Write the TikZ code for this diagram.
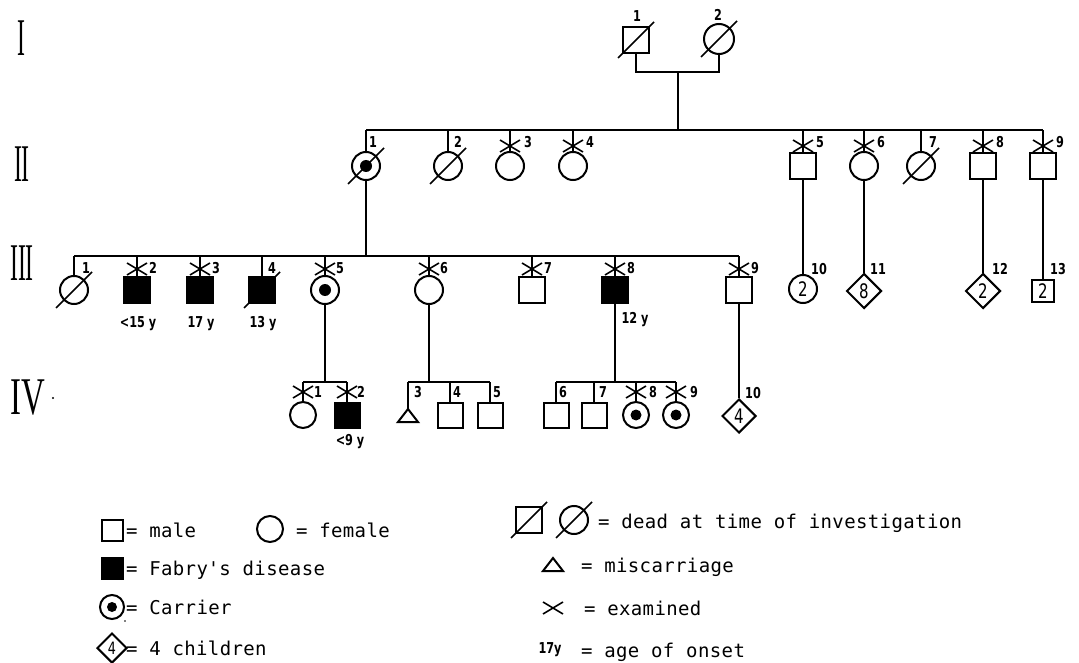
\documentclass[tikz,border=0pt]{standalone}
\usepackage{fontspec}
\usepackage{graphicx}
\usetikzlibrary{shapes.geometric}
\newfontfamily\legfam{DejaVu Sans Mono}[LetterSpace=2]
\newfontfamily\numfam{DejaVu Sans}[FakeStretch=0.75]
\newfontfamily\romfam{Liberation Serif}
\newcommand\legfont{\legfam\fontsize{19}{21}\selectfont}
\newcommand\lblfont{\numfam\bfseries\fontsize{15}{15}\selectfont}
\newcommand\kidfont{\numfam\fontsize{20}{20}\selectfont}
\newcommand\romfont{\romfam\fontsize{53}{53}\selectfont}
\begin{document}
\begin{tikzpicture}[x=1pt,y=-1pt,line width=2pt,
  male/.style={draw,rectangle,minimum size=26pt,inner sep=0pt},
  female/.style={draw,circle,minimum size=28pt,inner sep=0pt},
  kid/.style={draw,diamond,minimum size=35pt,inner sep=0pt,font=\kidfont},
  aff/.style={fill=black},
  lbl/.style={font=\lblfont,inner sep=0pt},
  roman/.style={font=\romfont,inner sep=0pt},
  legtxt/.style={font=\legfont,anchor=base west,inner sep=0pt},
  exmark/.pic={\draw[line width=1.6pt] (-10,-6) -- (10,6) (-10,6) -- (10,-6);},
  deadslash/.pic={\draw[line width=1.7pt] (-18,18) -- (18,-18);},
]
\useasboundingbox[fill=white] (0,0) rectangle (1079,663);

% generation labels
\node[roman] (gI) at (21,38) {\scalebox{0.45}[1]{I}};
\node[roman] (gII) at (22,164) {\scalebox{0.45}[1]{II}};
\node[roman] (gIII) at (22,263) {\scalebox{0.45}[1]{III}};
\node[roman] (gIV) at (28,398) {\scalebox{0.62}[1]{IV}};
\fill (53,398) circle[radius=1.2];

% ---------- generation I
\node[male] (I1) at (636,40) {};
\node[female,minimum size=30pt] (I2) at (719,39) {};
\pic at (I1) {deadslash};
\pic at (I2) {deadslash};
\node[lbl] (lI1) at (637,16) {1};
\node[lbl] (lI2) at (718,15) {2};
\coordinate (m1) at (678,72);
\coordinate (s2) at (678,130);
\draw (I1.south) -- (I1.south |- m1) -- (I2.south |- m1) -- (I2.south);
\draw (m1) -- (s2);

% ---------- generation II
\node[female] (II1) at (366,166) {};
\node[female] (II2) at (448,166) {};
\node[female] (II3) at (510,166) {};
\node[female] (II4) at (573,166) {};
\node[male] (II5) at (803,166) {};
\node[female] (II6) at (864,166) {};
\node[female] (II7) at (921,166) {};
\node[male] (II8) at (983,166) {};
\node[male] (II9) at (1043,166) {};
\fill (II1.center) circle[radius=6];
\pic at (II1) {deadslash};
\pic at (II2) {deadslash};
\pic at (II7) {deadslash};
\draw (II1.north |- s2) -- (II9.north |- s2);
\foreach \n in {II1,II2,II3,II4,II5,II6,II7,II8,II9}
  \draw (\n.north) -- (\n.north |- s2);
\foreach \x in {510,573,803,864,983,1043}
  \pic at (\x,146) {exmark};
\node[lbl] (lII1) at (373,142) {1};
\node[lbl] (lII2) at (458,142) {2};
\node[lbl] (lII3) at (528,142) {3};
\node[lbl] (lII4) at (590,142) {4};
\node[lbl] (lII5) at (820,142) {5};
\node[lbl] (lII6) at (881,142) {6};
\node[lbl] (lII7) at (933,142) {7};
\node[lbl] (lII8) at (1000,142) {8};
\node[lbl] (lII9) at (1060,142) {9};

% ---------- generation III
\coordinate (s3) at (366,256);
\node[female] (III1) at (74,290) {};
\node[male,aff] (III2) at (137,290) {};
\node[male,aff] (III3) at (200,290) {};
\node[male,aff] (III4) at (262,290) {};
\node[female] (III5) at (325,290) {};
\node[female] (III6) at (429,290) {};
\node[male] (III7) at (532,290) {};
\node[male,aff] (III8) at (615,290) {};
\node[male] (III9) at (739,290) {};
\fill (III5.center) circle[radius=6];
\pic at (III1) {deadslash};
\pic at (III4) {deadslash};
\draw (II1.south) -- (II1.south |- s3);
\draw (III1.north |- s3) -- (III9.north |- s3);
\foreach \n in {III1,III2,III3,III4,III5,III6,III7,III8,III9}
  \draw (\n.north) -- (\n.north |- s3);
\foreach \x in {137,200,325,429,532,615,739}
  \pic at (\x,269) {exmark};
\node[lbl] (lIII1) at (86,268) {1};
\node[lbl] (lIII2) at (153,268) {2};
\node[lbl] (lIII3) at (216,268) {3};
\node[lbl] (lIII4) at (272,268) {4};
\node[lbl] (lIII5) at (340,268) {5};
\node[lbl] (lIII6) at (444,268) {6};
\node[lbl] (lIII7) at (548,268) {7};
\node[lbl] (lIII8) at (631,268) {8};
\node[lbl] (lIII9) at (755,268) {9};
\node[lbl] (a2) at (138,324) {<15 y};
\node[lbl] (a3) at (201,324) {17 y};
\node[lbl] (a4) at (263,324) {13 y};
\node[lbl] (a8) at (635,320) {12 y};

\node[female,font=\kidfont] (III10) at (803,289) {2};
\node[kid] (III11) at (864,291) {8};
\node[kid] (III12) at (983,291) {2};
\node[male,minimum size=22pt,font=\kidfont] (III13) at (1043,291) {2};
\draw (II5.south) -- (III10.north);
\draw (II6.south) -- (III11.north);
\draw (II8.south) -- (III12.north);
\draw (II9.south) -- (III13.north);
\node[lbl] (lIII10) at (819,269) {10};
\node[lbl] (lIII11) at (878,269) {11};
\node[lbl] (lIII12) at (1000,269) {12};
\node[lbl] (lIII13) at (1058,269) {13};

% ---------- generation IV
\coordinate (s4) at (325,382);
\node[female,minimum size=26pt] (IV1) at (303,415) {};
\node[male,aff,minimum size=25pt] (IV2) at (347,415) {};
\draw (398,422) -- (408,409) -- (418,422) -- cycle;
\coordinate (IV3) at (408,409);
\node[male,minimum size=25pt] (IV4) at (450,415) {};
\node[male,minimum size=25pt] (IV5) at (490,415) {};
\node[male,minimum size=25pt] (IV6) at (556,415) {};
\node[male,minimum size=25pt] (IV7) at (594,415) {};
\node[female,minimum size=26pt] (IV8) at (636,415) {};
\node[female,minimum size=26pt] (IV9) at (676,415) {};
\node[kid,minimum size=34pt] (IV10) at (739,416) {4};
\fill (IV8.center) circle[radius=5.5];
\fill (IV9.center) circle[radius=5.5];
% sibships
\draw (IV1.north |- s4) -- (IV2.north |- s4);
\draw (III5.south) -- (III5.south |- s4);
\draw (IV3 |- s4) -- (IV5.north |- s4);
\draw (III6.south) -- (III6.south |- s4);
\draw (IV6.north |- s4) -- (IV9.north |- s4);
\draw (III8.south) -- (III8.south |- s4);
\draw (III9.south) -- (IV10.north);
\foreach \n in {IV1,IV2,IV4,IV5,IV6,IV7,IV8,IV9}
  \draw (\n.north) -- (\n.north |- s4);
\draw (IV3) -- (IV3 |- s4);
\foreach \x in {303,347,636,676}
  \pic at (\x,392) {exmark};
\node[lbl] (lIV1) at (318,392) {1};
\node[lbl] (lIV2) at (361,392) {2};
\node[lbl] (lIV3) at (418,392) {3};
\node[lbl] (lIV4) at (457,392) {4};
\node[lbl] (lIV5) at (497,392) {5};
\node[lbl] (lIV6) at (563,392) {6};
\node[lbl] (lIV7) at (603,392) {7};
\node[lbl] (lIV8) at (653,392) {8};
\node[lbl] (lIV9) at (694,392) {9};
\node[lbl] (lIV10) at (753,393) {10};
\node[lbl] (a9) at (350,442) {<9 y};

% ---------- legend
\node[male,minimum size=21pt] (Lmale) at (112,530) {};
\node[legtxt] (Tmale) at (125,537) {= male};
\node[female,minimum size=26pt] (Lfem) at (270,529) {};
\node[legtxt] (Tfem) at (295,537) {= female};
\node[male,aff,minimum size=21pt] (Laff) at (112,568) {};
\node[legtxt] (Taff) at (125,575) {= Fabry\textquotesingle s disease};
\node[female,minimum size=24pt] (Lcar) at (112,607) {};
\fill (Lcar.center) circle[radius=5];
\fill (125,621) circle[radius=0.8];
\node[legtxt] (Tcar) at (125,614) {= Carrier};
\node[kid,minimum size=30pt,font=\numfam\fontsize{17}{17}\selectfont] (Lkid) at (112,648) {4};
\node[legtxt] (Tkid) at (125,655) {= 4 children};

\node[male] (Ldm) at (529,520) {};
\pic at (Ldm) {deadslash};
\node[female] (Ldf) at (574,520) {};
\pic at (Ldf) {deadslash};
\node[legtxt] (Tdead) at (597,528) {= dead at time of investigation};
\draw (543,571) -- (553,558) -- (563,571) -- cycle;
\coordinate (Ltri) at (553,565);
\node[legtxt] (Ttri) at (580,572) {= miscarriage};
\pic at (553,608) {exmark};
\coordinate (Lex) at (553,608);
\node[legtxt] (Tex) at (583,615) {= examined};
\node[lbl] (Lage) at (550,650) {17y};
\node[legtxt] (Tage) at (580,657) {= age of onset};
\end{tikzpicture}
\end{document}
